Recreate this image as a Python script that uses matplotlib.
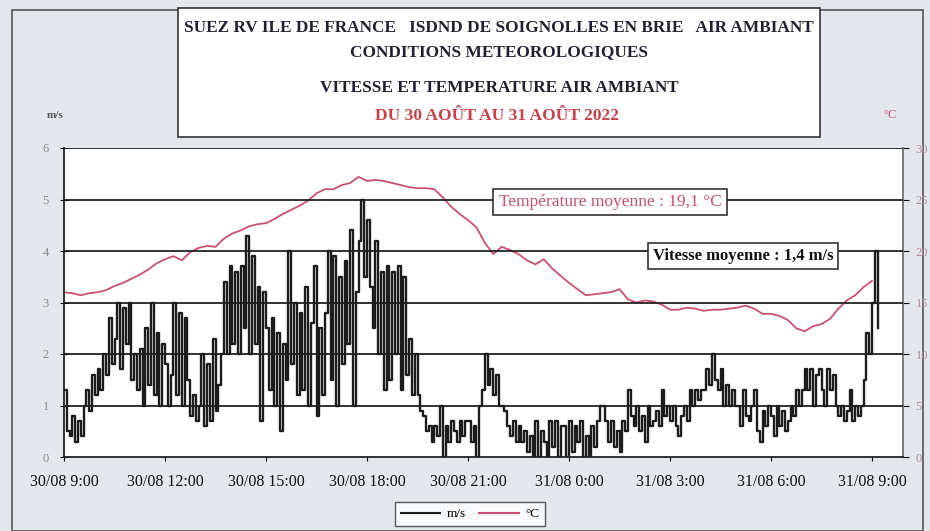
import numpy as np
import matplotlib
matplotlib.use("Agg")
import matplotlib.pyplot as plt
from matplotlib.patches import Rectangle
from matplotlib.lines import Line2D

# ---------------- data ----------------
title_lines = ["SUEZ RV ILE DE FRANCE   ISDND DE SOIGNOLLES EN BRIE   AIR AMBIANT",
               "CONDITIONS METEOROLOGIQUES",
               "VITESSE ET TEMPERATURE AIR AMBIANT"]
date_line = "DU 30 AOÛT AU 31 AOÛT 2022"

x_tick_labels = ["30/08 9:00", "30/08 12:00", "30/08 15:00", "30/08 18:00",
                 "30/08 21:00", "31/08 0:00", "31/08 3:00", "31/08 6:00", "31/08 9:00"]
x_tick_hours = [0, 3, 6, 9, 12, 15, 18, 21, 24]   # hours after 30/08 9:00

# wind speed (m/s), 5-minute steps starting 30/08 9:00 (one row per hour)
wind_rows = [
    [1.3, 0.5, 0.4, 0.8, 0.3, 0.7, 0.4, 1.0, 1.3, 0.9, 1.6, 1.2],   # 09h
    [1.7, 1.3, 2.0, 1.6, 2.7, 1.8, 2.3, 3.0, 1.7, 2.9, 2.2, 3.0],   # 10h
    [1.5, 2.0, 1.3, 2.1, 1.0, 2.5, 1.4, 3.0, 1.2, 2.4, 1.0, 2.2],   # 11h
    [1.8, 1.0, 1.6, 3.0, 1.2, 2.8, 1.0, 2.7, 1.5, 0.8, 1.2, 0.7],   # 12h
    [1.0, 2.0, 0.6, 1.8, 0.7, 2.3, 0.9, 1.4, 2.0, 3.4, 2.0, 3.7],   # 13h
    [2.2, 3.6, 2.0, 3.7, 2.5, 4.3, 2.0, 3.9, 2.2, 3.3, 0.7, 3.2],   # 14h
    [2.5, 1.3, 2.7, 1.0, 2.4, 0.5, 2.2, 1.5, 4.0, 1.8, 3.0, 1.2],   # 15h
    [2.8, 1.3, 3.3, 1.0, 2.6, 3.7, 0.8, 2.5, 1.2, 2.8, 4.0, 1.5],   # 16h
    [3.9, 1.0, 3.5, 1.8, 3.8, 2.2, 4.4, 1.0, 3.2, 4.2, 5.0, 3.5],   # 17h
    [4.6, 3.3, 2.5, 4.2, 2.0, 3.6, 1.3, 3.7, 1.5, 3.6, 2.0, 3.7],   # 18h
    [1.3, 3.5, 1.6, 2.3, 1.2, 2.0, 1.2, 0.9, 0.8, 0.5, 0.6, 0.3],   # 19h
    [0.6, 0.4, 1.0, 0.0, 0.6, 0.3, 0.7, 0.5, 0.3, 0.7, 0.4, 0.7],   # 20h
    [0.7, 0.3, 0.6, 0.0, 1.0, 1.3, 2.0, 1.4, 1.7, 1.2, 1.6, 1.0],   # 21h
    [1.0, 0.9, 0.6, 0.4, 0.7, 0.3, 0.6, 0.3, 0.5, 0.1, 0.4, 0.0],   # 22h
    [0.7, 0.0, 0.5, 0.3, 0.0, 0.7, 0.2, 0.7, 0.0, 0.6, 0.6, 0.0],   # 23h
    [0.7, 0.1, 0.6, 0.3, 0.7, 0.0, 0.4, 0.0, 0.6, 0.2, 0.7, 1.0],   # 00h
    [1.0, 0.7, 0.3, 0.7, 0.2, 0.5, 0.1, 0.7, 0.5, 1.3, 0.8, 0.6],   # 01h
    [1.0, 0.5, 0.8, 0.3, 1.0, 0.6, 0.7, 0.9, 0.6, 1.3, 0.8, 1.0],   # 02h
    [0.7, 1.0, 0.6, 0.4, 0.8, 1.0, 0.7, 1.3, 1.0, 1.3, 1.1, 1.3],   # 03h
    [1.3, 1.7, 1.4, 2.0, 1.5, 1.3, 1.7, 1.0, 1.4, 1.0, 1.3, 1.0],   # 04h
    [1.0, 0.6, 1.3, 0.8, 0.7, 1.0, 1.3, 0.5, 0.3, 0.9, 0.6, 1.0],   # 05h
    [0.8, 0.4, 1.0, 0.6, 0.9, 0.5, 0.7, 1.0, 0.8, 1.3, 1.0, 1.3],   # 06h
    [1.7, 1.3, 1.7, 1.0, 1.6, 1.7, 1.3, 1.0, 1.7, 1.3, 1.6, 1.0],   # 07h
    [0.8, 1.0, 0.7, 0.9, 1.3, 0.7, 1.0, 0.8, 1.0, 1.5, 2.4, 2.0],   # 08h
    [3.0, 4.0, 2.5],                                                  # 09h (31/08)
]

# air temperature (°C), 15-minute steps starting 30/08 9:00
temperature = [
    16.0, 15.9, 15.7, 15.9,   # 09h
    16.0, 16.2, 16.6, 16.9,   # 10h
    17.3, 17.7, 18.2, 18.8,   # 11h
    19.2, 19.5, 19.1, 19.9,   # 12h
    20.3, 20.5, 20.4, 21.2,   # 13h
    21.7, 22.0, 22.4, 22.6,   # 14h
    22.7, 23.1, 23.6, 24.0,   # 15h
    24.4, 24.9, 25.6, 26.0,   # 16h
    26.0, 26.4, 26.6, 27.2,   # 17h
    26.8, 26.9, 26.8, 26.6,   # 18h
    26.4, 26.2, 26.1, 26.1,   # 19h
    26.0, 25.2, 24.3, 23.6,   # 20h
    23.0, 22.3, 20.8, 19.7,   # 21h
    20.4, 20.1, 19.7, 19.1,   # 22h
    18.7, 19.2, 18.3, 17.6,   # 23h
    16.9, 16.3, 15.7, 15.8,   # 00h
    15.9, 16.0, 16.3, 15.3,   # 01h
    15.0, 15.2, 15.1, 14.8,   # 02h
    14.3, 14.3, 14.5, 14.4,   # 03h
    14.2, 14.3, 14.3, 14.4,   # 04h
    14.5, 14.7, 14.4, 13.9,   # 05h
    13.9, 13.7, 13.3, 12.5,   # 06h
    12.2, 12.7, 12.9, 13.4,   # 07h
    14.4, 15.2, 15.7, 16.5,   # 08h
    17.1,                     # 09h (31/08)
]

wind = [v for row in wind_rows for v in row]
wind_hours = np.arange(len(wind)) * 5 / 60
temp_hours = np.arange(len(temperature)) * 15 / 60

temp_mean_text = "Température moyenne : 19,1 °C"
wind_mean_text = "Vitesse moyenne : 1,4 m/s"

# ---------------- figure ----------------
W, H = 930, 531
fig = plt.figure(figsize=(W / 100, H / 100), dpi=100)
fig.patch.set_facecolor("#e4e8ec")
serif = ["Liberation Serif", "DejaVu Serif"]

# outer frame
fig.add_artist(Rectangle((12 / W, 0.0), 911 / W, 1 - 10 / H, transform=fig.transFigure,
                         fill=False, ec="#555555", lw=1.2))

ax = fig.add_axes([64 / W, 1 - 457 / H, (903 - 64) / W, (457 - 148) / H])
ax2 = ax.twinx()

red = "#c9506f"

ax.set_zorder(2)
ax.patch.set_visible(False)
ax2.set_zorder(1)
ax2.patch.set_visible(True)
ax2.patch.set_facecolor("white")

ax2.plot(temp_hours, temperature, color=red, lw=1.3)
ax.plot(wind_hours, wind, color="#1c1c1c", lw=1.7, drawstyle="steps-post")

ax.set_xlim(0, 24.92)
ax.set_ylim(0, 6)
ax2.set_ylim(0, 30)
ax.set_yticks(range(0, 7))
ax2.set_yticks(range(0, 31, 5))
ax.set_xticks(x_tick_hours)
ax.set_xticklabels(x_tick_labels, fontfamily=serif, fontsize=11.5)

for y in range(1, 7):
    ax.axhline(y, color="#222222", lw=1.3, zorder=0.5)

ax.tick_params(axis="y", direction="inout", length=6, labelsize=9, labelcolor="#8a8a8a", pad=8)
ax.tick_params(axis="x", direction="out", length=3, pad=9, labelcolor="#111111")
ax2.tick_params(axis="y", direction="out", length=4, labelsize=9, labelcolor="#b08a96", pad=5)
for lab in ax.get_yticklabels() + ax2.get_yticklabels():
    lab.set_fontfamily(serif)

for s in ["left", "bottom"]:
    ax.spines[s].set_color("#222222")
    ax.spines[s].set_linewidth(1.3)
ax.spines["top"].set_visible(False)
ax.spines["right"].set_visible(False)
for s in ["top", "left", "bottom"]:
    ax2.spines[s].set_visible(False)
ax2.spines["right"].set_color("#666666")
ax2.spines["right"].set_linewidth(1.2)

# axis unit labels
fig.text(55 / W, 1 - 115 / H, "m/s", fontfamily=serif, fontsize=8, color="#555555",
         ha="center", va="center", fontweight="bold")
fig.text(890 / W, 1 - 115 / H, "°C", fontfamily=serif, fontsize=9, color=red,
         ha="center", va="center")

# title box
fig.add_artist(Rectangle((178 / W, 1 - 137 / H), (820 - 178) / W, (137 - 8) / H,
                         transform=fig.transFigure, fc="white", ec="#333333", lw=1.2))
title_y = [28, 52, 88]
for t, yy in zip(title_lines, title_y):
    fig.text(499 / W, 1 - yy / H, t, fontfamily=serif, fontsize=12.4, fontweight="bold",
             color="#202030", ha="center", va="center")
fig.text(497 / W, 1 - 116 / H, date_line, fontfamily=serif, fontsize=12.6, fontweight="bold",
         color="#c8404a", ha="center", va="center")

# mean value boxes
fig.text(610 / W, 1 - 202 / H, temp_mean_text, fontfamily=serif, fontsize=12.5, color=red,
         ha="center", va="center",
         bbox=dict(boxstyle="square,pad=0.3", fc="white", ec="#333333", lw=1.2))
fig.text(743 / W, 1 - 256 / H, wind_mean_text, fontfamily=serif, fontsize=12,
         fontweight="bold", color="#111111", ha="center", va="center",
         bbox=dict(boxstyle="square,pad=0.3", fc="white", ec="#333333", lw=1.2))

# legend
handles = [Line2D([], [], color="#1c1c1c", lw=1.5), Line2D([], [], color=red, lw=1.5)]
leg = fig.legend(handles, ["m/s", "°C"], loc="center", bbox_to_anchor=(470 / W, 1 - 514 / H),
                 ncol=2, frameon=True, fancybox=False, edgecolor="#333333",
                 prop={"family": serif, "size": 9.5}, handlelength=3.0, columnspacing=1.0,
                 handletextpad=0.5, borderpad=0.45)
leg.get_frame().set_linewidth(1.0)

fig.savefig("out.png", dpi=100, facecolor=fig.get_facecolor())
